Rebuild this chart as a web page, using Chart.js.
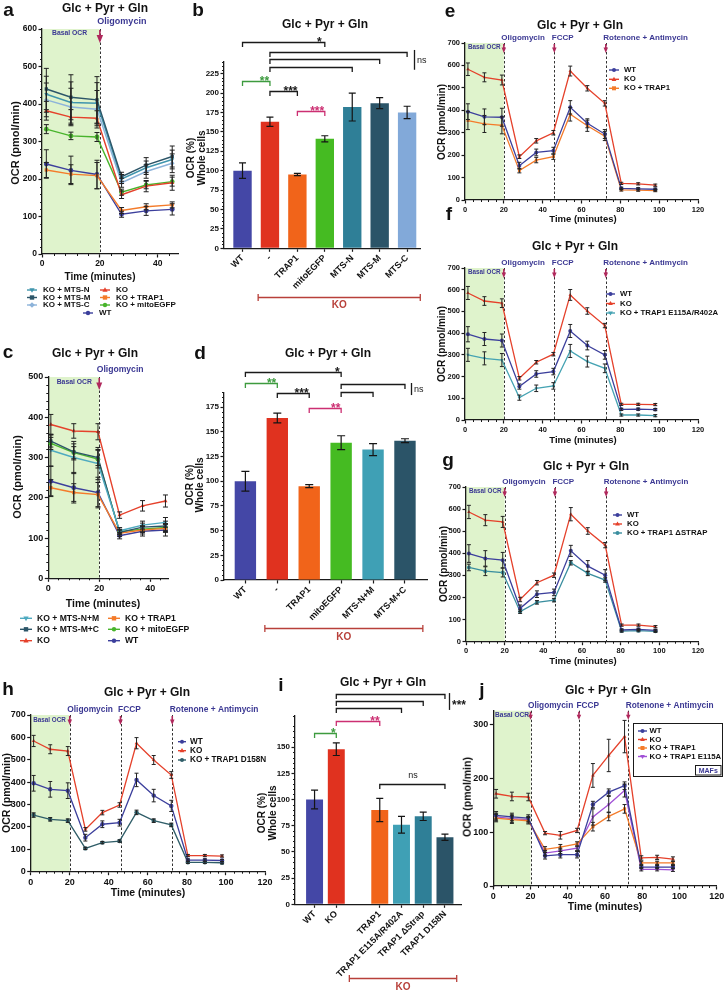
<!DOCTYPE html>
<html>
<head>
<meta charset="utf-8">
<title>OCR panels</title>
<script src="https://cdn.jsdelivr.net/npm/chart.js@4.4.1/dist/chart.umd.min.js"></script>
<style>
  html, body { margin: 0; padding: 0; background: #ffffff; }
  #page { position: relative; width: 724px; height: 991px; overflow: hidden; background: #fff; }
  #page canvas { position: absolute; left: 0; top: 0; }
  .t { position: absolute; font-family: 'Liberation Sans', Arial, sans-serif; font-weight: bold; color: #111;
       white-space: nowrap; line-height: 1; transform: translate(-50%, -50%); z-index: 5; }
</style>
</head>
<body>
<div id="page"></div>
<script>
// ===================== DATA =====================
// Panel a (time in minutes, OCR pmol/min)
const timeA = [1.5, 10, 19, 27.5, 36, 45];
const aMTSM = [440, 418, 411, 206, 237, 260];
const aMTSMerr = [55, 60, 62, 12, 20, 28];
const aMTSN = [426, 404, 402, 200, 230, 252];
const aMTSNerr = [48, 55, 55, 12, 18, 25];
const aMTSC = [411, 392, 386, 190, 220, 242];
const aMTSCerr = [45, 50, 50, 12, 18, 25];
const aKO = [382, 365, 362, 158, 181, 190];
const aKOerr = [25, 20, 20, 10, 15, 20];
const aMito = [333, 315, 312, 165, 184, 193];
const aMitoErr = [12, 10, 12, 8, 10, 12];
const aTRAP1 = [224, 213, 209, 116, 126, 131];
const aTRAP1err = [20, 25, 35, 8, 8, 8];
const aWT = [240, 223, 212, 106, 115, 119];
const aWTerr = [38, 38, 38, 8, 12, 15];

// Panel b (OCR %, whole cells)
const catsB = ['WT', '-', 'TRAP1', 'mitoEGFP', 'MTS-N', 'MTS-M', 'MTS-C'];
const slotsB = [0, 1, 2, 3, 4, 5, 6];
const valsB = [100, 163, 95, 141, 182, 187, 175];
const errB = [10, 6, 1.5, 4, 18, 7, 8];

// Panel c
const timeC = [1, 10, 19.5, 28, 37, 46];
const cNM = [318, 300, 285, 118, 132, 139];
const cNMerr = [40, 40, 40, 8, 10, 12];
const cMC = [341, 314, 300, 114, 127, 130];
const cMCerr = [15, 20, 20, 6, 10, 12];
const cKO = [382, 366, 364, 157, 180, 192];
const cKOerr = [25, 18, 20, 8, 13, 15];
const cTRAP1 = [225, 213, 208, 112, 120, 124];
const cTRAP1err = [20, 22, 30, 8, 10, 10];
const cMito = [335, 312, 296, 116, 122, 126];
const cMitoErr = [15, 15, 22, 6, 8, 10];
const cWT = [241, 225, 213, 106, 117, 120];
const cWTerr = [38, 38, 38, 8, 12, 15];

// Panel d
const catsD = ['WT', '-', 'TRAP1', 'mitoEGFP', 'MTS-N+M', 'MTS-M+C'];
const slotsD = [0, 1, 2, 3, 4, 5];
const valsD = [100, 164, 95, 139, 132, 141];
const errD = [10, 5, 1.5, 7, 6, 2];

// Panels e-h share the injection time grid
const timeEFGH = [1.5, 10, 19, 28, 36.7, 45.5, 54.2, 63, 72, 80.5, 89.2, 98];
const eWT = [394, 371, 369, 153, 212, 220, 413, 342, 294, 52, 50, 48];
const eWTerr = [35, 35, 40, 15, 15, 15, 30, 20, 20, 5, 5, 5];
const eKO = [583, 547, 535, 193, 264, 300, 575, 498, 431, 74, 72, 66];
const eKOerr = [28, 20, 22, 8, 10, 10, 22, 12, 12, 5, 5, 5];
const eTRAP1 = [354, 339, 333, 131, 178, 193, 382, 331, 285, 45, 44, 42];
const eTRAP1err = [40, 38, 38, 10, 12, 12, 30, 25, 20, 5, 5, 5];

const fWT = [395, 373, 366, 154, 212, 223, 410, 343, 300, 49, 50, 48];
const fWTerr = [35, 30, 30, 12, 15, 15, 30, 20, 20, 5, 5, 5];
const fKO = [585, 548, 538, 192, 266, 303, 576, 502, 435, 72, 72, 71];
const fKOerr = [30, 20, 20, 8, 8, 8, 25, 15, 10, 5, 5, 5];
const fMut = [300, 284, 276, 103, 146, 157, 318, 269, 238, 23, 23, 20];
const fMutErr = [30, 30, 30, 12, 15, 15, 30, 25, 20, 5, 5, 5];

const gWT = [399, 377, 369, 151, 215, 223, 411, 342, 301, 53, 56, 51];
const gWTerr = [40, 35, 35, 15, 15, 15, 25, 25, 25, 5, 5, 5];
const gKO = [587, 550, 542, 191, 267, 301, 577, 501, 437, 75, 75, 68];
const gKOerr = [30, 25, 25, 10, 10, 10, 30, 15, 12, 5, 5, 5];
const gStrap = [336, 319, 313, 136, 178, 188, 357, 309, 279, 48, 50, 47];
const gStrapErr = [15, 20, 20, 8, 8, 8, 10, 10, 10, 5, 5, 5];

const hWT = [395, 368, 362, 152, 212, 219, 410, 340, 294, 52, 52, 50];
const hWTerr = [35, 35, 35, 15, 15, 15, 30, 28, 25, 5, 5, 5];
const hKO = [584, 547, 539, 189, 264, 298, 574, 499, 432, 72, 72, 70];
const hKOerr = [25, 20, 20, 8, 10, 10, 25, 20, 15, 5, 5, 5];
const hD158N = [253, 234, 228, 104, 130, 137, 265, 228, 209, 42, 42, 40];
const hD158Nerr = [10, 8, 8, 5, 5, 5, 10, 8, 8, 5, 5, 5];

// Panel i
const catsI = ['WT', 'KO', 'TRAP1', 'TRAP1 E115A/R402A', 'TRAP1 \u0394Strap', 'TRAP1 D158N'];
const slotsI = [0, 1, 3, 4, 5, 6];
const valsI = [100, 148, 90, 76, 84, 64];
const errI = [9, 6, 11, 8, 4, 3];

// Panel j (MAFs)
const timeJ = [1.5, 10, 18.8, 27.8, 36, 45, 53.5, 62, 70.5, 79.5, 88, 96.5];
const jWT = [131, 128, 126, 56, 58, 58, 151, 174, 186, 35, 35, 35];
const jWTerr = [7, 7, 6, 6, 6, 6, 6, 6, 7, 3, 3, 3];
const jKO = [171, 166, 165, 98, 94, 103, 205, 242, 277, 52, 53, 50];
const jKOerr = [8, 8, 7, 3, 7, 4, 22, 30, 30, 4, 4, 4];
const jTRAP1 = [126, 123, 121, 68, 72, 78, 110, 129, 143, 43, 43, 43];
const jTRAP1err = [7, 7, 6, 5, 5, 4, 8, 8, 8, 3, 3, 3];
const jE115A = [128, 125, 123, 61, 65, 70, 128, 151, 177, 31, 31, 30];
const jE115Aerr = [7, 7, 6, 5, 5, 4, 15, 15, 12, 3, 3, 3];

const injTimes = [20, 46, 72.5];
const injNames = ['Oligomycin', 'FCCP', 'Rotenone + Antimycin'];

// ===================== RENDERING =====================
const FONT = "'Liberation Sans', Arial, Helvetica, sans-serif";
const W = 724, H = 991;
const INK = '#1a1a1a';
const SHADE = '#dff3cc';
const INJ = '#3b3893';
const ARROW = '#b0285c';
const GREEN = '#3d9b3f';
const PINK = '#cc2f72';
const KORED = '#b8403a';
const COL = {
  WT: '#3c3f9c', KO: '#e5412b', TRAP1: '#f47b2a', mito: '#48b42c',
  MTSN: '#3f95ad', MTSM: '#2c5568', MTSC: '#8db3da', NM: '#4eaac0', MC: '#2c5568',
  R402: '#45a3b3', STRAP: '#3a8e9f', D158N: '#2f5d68', E115A: '#a151d6'
};
const page = document.getElementById('page');

function addText(txt, x, y, size, o) {
  o = o || {};
  const d = document.createElement('div');
  d.className = 't';
  d.textContent = txt;
  d.style.left = x + 'px';
  d.style.top = y + 'px';
  d.style.fontSize = size + 'px';
  if (o.color) d.style.color = o.color;
  if (o.rot) d.style.transform = 'translate(-50%, -50%) rotate(-90deg)';
  page.appendChild(d);
}
function makeCanvas() {
  const c = document.createElement('canvas');
  c.width = W; c.height = H;
  c.style.width = W + 'px'; c.style.height = H + 'px';
  page.appendChild(c);
  return c;
}
function isMult(v, step) { return Math.abs(v / step - Math.round(v / step)) < 1e-6; }
function keepMultiples(step) { return s => { s.ticks = s.ticks.filter(t => isMult(t.value, step)); }; }
function fixY(wy) { return s => { s.width = wy; s.paddingTop = 0; s.paddingBottom = 0; s.paddingLeft = 0; s.paddingRight = 0; }; }
function fixX(hx) { return s => { s.height = hx; s.paddingTop = 0; s.paddingBottom = 0; s.paddingLeft = 0; s.paddingRight = 0; }; }
function border() { return { display: true, color: INK, width: 1.3 }; }
function grid() { return { display: true, drawOnChartArea: false, drawTicks: true, tickLength: 3.5, tickWidth: 1.2, tickColor: INK, color: INK, offset: false }; }
function tfont(size) { return { family: FONT, size: size, weight: 'bold' }; }

function drawMarker(ctx, style, x, y, r, color) {
  ctx.save();
  ctx.fillStyle = color;
  ctx.beginPath();
  if (style === 'rect') { ctx.rect(x - r, y - r, 2 * r, 2 * r); }
  else if (style === 'rectRot') { ctx.moveTo(x, y - r * 1.3); ctx.lineTo(x + r * 1.3, y); ctx.lineTo(x, y + r * 1.3); ctx.lineTo(x - r * 1.3, y); ctx.closePath(); }
  else if (style === 'triangle') { ctx.moveTo(x, y - r * 1.3); ctx.lineTo(x + r * 1.2, y + r * 0.8); ctx.lineTo(x - r * 1.2, y + r * 0.8); ctx.closePath(); }
  else if (style === 'triangleDown') { ctx.moveTo(x, y + r * 1.3); ctx.lineTo(x + r * 1.2, y - r * 0.8); ctx.lineTo(x - r * 1.2, y - r * 0.8); ctx.closePath(); }
  else { ctx.arc(x, y, r, 0, Math.PI * 2); }
  ctx.fill();
  ctx.restore();
}
function drawArrow(ctx, x, top, len, w) {
  ctx.save();
  ctx.strokeStyle = ARROW; ctx.fillStyle = ARROW; ctx.lineWidth = 1.6;
  ctx.beginPath(); ctx.moveTo(x, top); ctx.lineTo(x, top + len * 0.5); ctx.stroke();
  ctx.beginPath();
  ctx.moveTo(x - w / 2, top + len * 0.38); ctx.lineTo(x + w / 2, top + len * 0.38); ctx.lineTo(x, top + len);
  ctx.closePath(); ctx.fill();
  ctx.restore();
}
function drawMinor(ctx, a, x, y, p) {
  ctx.save(); ctx.strokeStyle = INK; ctx.lineWidth = 1;
  if (p.yMinor) {
    for (let v = 0; v <= y.max + 1e-9; v += p.yMinor) {
      if (isMult(v, p.yStep)) continue;
      const py = Math.round(y.getPixelForValue(v)) + 0.5;
      ctx.beginPath(); ctx.moveTo(a.left - 2, py); ctx.lineTo(a.left, py); ctx.stroke();
    }
  }
  if (p.xMinor) {
    for (let v = 0; v <= x.max + 1e-9; v += p.xMinor) {
      if (isMult(v, p.xStep)) continue;
      const px = Math.round(x.getPixelForValue(v)) + 0.5;
      ctx.beginPath(); ctx.moveTo(px, a.bottom); ctx.lineTo(px, a.bottom + 2); ctx.stroke();
    }
  }
  ctx.restore();
}
function drawLegend(ctx, chart, L) {
  ctx.save();
  if (L.box) {
    ctx.strokeStyle = INK; ctx.lineWidth = 1;
    ctx.strokeRect(L.box[0] + 0.5, L.box[1] + 0.5, L.box[2] - L.box[0], L.box[3] - L.box[1]);
  }
  ctx.font = 'bold ' + L.size + 'px ' + FONT;
  ctx.textBaseline = 'middle'; ctx.textAlign = 'left';
  L.items.forEach(it => {
    const ds = chart.data.datasets[it[0]];
    const lx = it[1], ly = it[2];
    ctx.strokeStyle = ds.borderColor; ctx.lineWidth = 1.4;
    ctx.beginPath(); ctx.moveTo(lx, ly); ctx.lineTo(lx + L.len, ly); ctx.stroke();
    drawMarker(ctx, ds.marker || 'circle', lx + L.len / 2, ly, L.r || 2, ds.borderColor);
    ctx.fillStyle = '#111';
    ctx.fillText(ds.label, lx + L.len + L.gap, ly);
  });
  if (L.tag) {
    const b = L.tag.box;
    ctx.strokeStyle = INK; ctx.lineWidth = 1;
    ctx.strokeRect(b[0] + 0.5, b[1] + 0.5, b[2] - b[0], b[3] - b[1]);
    ctx.fillStyle = INJ; ctx.textAlign = 'center';
    ctx.font = 'bold 7px ' + FONT;
    ctx.fillText(L.tag.text, (b[0] + b[2]) / 2 + 0.5, (b[1] + b[3]) / 2 + 1);
  }
  ctx.restore();
}

function lineDeco(p) {
  return {
    id: 'lineDeco',
    beforeDraw(chart) {
      const ctx = chart.ctx, a = chart.chartArea, x = chart.scales.x;
      const x0 = x.getPixelForValue(0), x1 = x.getPixelForValue(p.inj[0]);
      ctx.save(); ctx.fillStyle = SHADE; ctx.fillRect(x0, a.top, x1 - x0, a.bottom - a.top); ctx.restore();
    },
    beforeDatasetsDraw(chart) {
      const ctx = chart.ctx, a = chart.chartArea, x = chart.scales.x;
      ctx.save(); ctx.strokeStyle = '#333'; ctx.lineWidth = 1; ctx.setLineDash([2.5, 2]);
      p.inj.forEach(t => {
        const px = Math.round(x.getPixelForValue(t)) + 0.5;
        ctx.beginPath(); ctx.moveTo(px, a.top); ctx.lineTo(px, a.bottom); ctx.stroke();
      });
      ctx.restore();
    },
    afterDatasetsDraw(chart) {
      const ctx = chart.ctx, y = chart.scales.y;
      const cw = p.capW || 2;
      ctx.save(); ctx.strokeStyle = '#222'; ctx.lineWidth = 1;
      chart.data.datasets.forEach((ds, i) => {
        const meta = chart.getDatasetMeta(i);
        meta.data.forEach((pt, j) => {
          const v = ds.data[j].y, e = ds.err[j];
          const y1 = y.getPixelForValue(v + e), y2 = y.getPixelForValue(v - e);
          ctx.beginPath();
          ctx.moveTo(pt.x, y1); ctx.lineTo(pt.x, y2);
          ctx.moveTo(pt.x - cw, y1); ctx.lineTo(pt.x + cw, y1);
          ctx.moveTo(pt.x - cw, y2); ctx.lineTo(pt.x + cw, y2);
          ctx.stroke();
        });
      });
      ctx.restore();
    },
    afterDraw(chart) {
      const ctx = chart.ctx, a = chart.chartArea, x = chart.scales.x, y = chart.scales.y;
      drawMinor(ctx, a, x, y, p);
      ctx.save();
      p.inj.forEach((t, k) => {
        const px = x.getPixelForValue(t);
        drawArrow(ctx, px, a.top + 1, p.arrowLen, p.arrowW);
        ctx.font = 'bold ' + p.injSize + 'px ' + FONT;
        ctx.textBaseline = 'middle'; ctx.textAlign = 'left'; ctx.fillStyle = INJ;
        ctx.fillText(p.injLabels[k], px - 2.5, a.top - p.injDy);
      });
      ctx.font = 'bold ' + p.basal.size + 'px ' + FONT;
      ctx.textBaseline = 'middle'; ctx.textAlign = 'left'; ctx.fillStyle = INJ;
      ctx.fillText('Basal OCR', a.left + p.basal.dx, a.top + p.basal.dy);
      ctx.restore();
      drawLegend(ctx, chart, p.legend);
    }
  };
}

function lineChart(p) {
  const cv = makeCanvas();
  const wy = 30, hx = 18, A = p.area;
  const datasets = p.series.map(s => ({
    label: s.label,
    data: p.times.map((t, i) => ({ x: t, y: s.data[i] })),
    err: s.err,
    marker: s.marker || 'circle',
    borderColor: s.color,
    backgroundColor: s.color,
    borderWidth: p.lineW || 1.4,
    pointRadius: p.ptR || 2,
    pointStyle: s.marker === 'triangleDown' ? 'triangle' : (s.marker || 'circle'),
    rotation: s.marker === 'triangleDown' ? 180 : 0,
    pointBorderWidth: 0,
    tension: 0,
    clip: false
  }));
  return new Chart(cv, {
    type: 'line',
    data: { datasets: datasets },
    options: {
      responsive: false, animation: false, devicePixelRatio: 1,
      layout: { autoPadding: false, padding: { left: A.L - wy, top: A.T, right: W - A.R, bottom: H - A.B - hx } },
      plugins: { legend: { display: false }, tooltip: { enabled: false }, title: { display: false } },
      scales: {
        x: {
          type: 'linear', min: 0, max: p.xMax, border: border(), grid: grid(),
          ticks: { stepSize: p.xStep, color: '#111', font: tfont(p.tick), padding: 1.5, maxRotation: 0, minRotation: 0, autoSkip: false },
          afterBuildTicks: keepMultiples(p.xStep), afterFit: fixX(hx)
        },
        y: {
          type: 'linear', min: 0, max: p.yMax, border: border(), grid: grid(),
          ticks: { stepSize: p.yStep, color: '#111', font: tfont(p.tick), padding: 1.5, autoSkip: false },
          afterBuildTicks: keepMultiples(p.yStep), afterFit: fixY(wy)
        }
      }
    },
    plugins: [lineDeco(p)]
  });
}

function barDeco(p) {
  return {
    id: 'barDeco',
    afterDatasetsDraw(chart) {
      const ctx = chart.ctx, y = chart.scales.y;
      const meta = chart.getDatasetMeta(0), ds = chart.data.datasets[0];
      const cw = p.capW;
      ctx.save(); ctx.strokeStyle = '#151515'; ctx.lineWidth = 1.2;
      meta.data.forEach((bar, j) => {
        const v = ds.data[j].y, e = ds.err[j];
        const y1 = y.getPixelForValue(v + e), y2 = y.getPixelForValue(v - e);
        ctx.beginPath();
        ctx.moveTo(bar.x, y1); ctx.lineTo(bar.x, y2);
        ctx.moveTo(bar.x - cw, y1); ctx.lineTo(bar.x + cw, y1);
        ctx.moveTo(bar.x - cw, y2); ctx.lineTo(bar.x + cw, y2);
        ctx.stroke();
      });
      ctx.restore();
    },
    afterDraw(chart) {
      const ctx = chart.ctx, a = chart.chartArea, x = chart.scales.x, y = chart.scales.y;
      drawMinor(ctx, a, x, y, p);
      ctx.save();
      p.brackets.forEach(b => {
        const x1 = x.getPixelForValue(b.x1), x2 = x.getPixelForValue(b.x2);
        const py = Math.round(y.getPixelForValue(b.y)) + 0.5;
        const col = b.color || INK;
        ctx.strokeStyle = col; ctx.lineWidth = 1.3;
        ctx.beginPath(); ctx.moveTo(x1, py + 4.5); ctx.lineTo(x1, py); ctx.lineTo(x2, py); ctx.lineTo(x2, py + 4.5); ctx.stroke();
        if (b.label) {
          const star = b.label.indexOf('*') >= 0;
          ctx.fillStyle = col;
          ctx.font = (star ? 'bold 12px ' : '9px ') + FONT;
          ctx.textAlign = 'center'; ctx.textBaseline = 'alphabetic';
          ctx.fillText(b.label, x.getPixelForValue(b.lx), star ? py + 3.2 : py - 7);
        }
      });
      if (p.vline) {
        const v = p.vline;
        const px = Math.round(x.getPixelForValue(v.x)) + 0.5;
        ctx.strokeStyle = INK; ctx.lineWidth = 1.3;
        ctx.beginPath(); ctx.moveTo(px, y.getPixelForValue(v.y1)); ctx.lineTo(px, y.getPixelForValue(v.y2)); ctx.stroke();
        const star = v.label.indexOf('*') >= 0;
        ctx.fillStyle = INK; ctx.textAlign = 'left'; ctx.textBaseline = 'alphabetic';
        ctx.font = (star ? 'bold 12px ' : '9px ') + FONT;
        ctx.fillText(v.label, px + 2.5, y.getPixelForValue(v.ly) + (star ? 7 : 2.3));
      }
      const g = p.group;
      const gy = Math.round(a.bottom + g.dy) + 0.5;
      const gx1 = x.getPixelForValue(g.x1), gx2 = x.getPixelForValue(g.x2);
      ctx.strokeStyle = KORED; ctx.lineWidth = 1.3;
      ctx.beginPath();
      ctx.moveTo(gx1, gy); ctx.lineTo(gx2, gy);
      ctx.moveTo(gx1, gy - 3.5); ctx.lineTo(gx1, gy + 3.5);
      ctx.moveTo(gx2, gy - 3.5); ctx.lineTo(gx2, gy + 3.5);
      ctx.stroke();
      ctx.fillStyle = KORED; ctx.font = 'bold 10px ' + FONT; ctx.textAlign = 'center'; ctx.textBaseline = 'middle';
      ctx.fillText('KO', (gx1 + gx2) / 2, gy + g.textDy);
      ctx.restore();
    }
  };
}

function barChart(p) {
  const cv = makeCanvas();
  const wy = 30, hx = 85, A = p.area;
  const ds = {
    data: p.slots.map((s, i) => ({ x: s, y: p.vals[i] })),
    err: p.errs,
    backgroundColor: p.colors,
    borderWidth: 0,
    barPercentage: p.barPct,
    categoryPercentage: 1
  };
  return new Chart(cv, {
    type: 'bar',
    data: { datasets: [ds] },
    options: {
      responsive: false, animation: false, devicePixelRatio: 1,
      layout: { autoPadding: false, padding: { left: A.L - wy, top: A.T, right: W - A.R, bottom: H - A.B - hx } },
      plugins: { legend: { display: false }, tooltip: { enabled: false }, title: { display: false } },
      scales: {
        x: {
          type: 'linear', min: p.xMin, max: p.xMax, offset: false, border: border(), grid: grid(),
          ticks: {
            stepSize: 1, color: '#111', font: tfont(p.xTick), padding: 1, autoSkip: false, minRotation: 45, maxRotation: 45,
            callback: v => { const k = p.slots.indexOf(v); return k >= 0 ? p.cats[k] : ''; }
          },
          afterBuildTicks: s => { s.ticks = p.slots.map(v => ({ value: v })); },
          afterFit: fixX(hx)
        },
        y: {
          type: 'linear', min: 0, max: p.yMax, border: border(), grid: grid(),
          ticks: { stepSize: p.yStep, color: '#111', font: tfont(p.tick), padding: 1.5, autoSkip: false },
          afterBuildTicks: keepMultiples(p.yStep), afterFit: fixY(wy)
        }
      }
    },
    plugins: [barDeco(p)]
  });
}

// ---------- Panel a ----------
lineChart({
  area: { L: 42, T: 29, R: 178, B: 254 },
  xMax: 47, xStep: 20, xMinor: 4, yMax: 600, yStep: 100, yMinor: 20, tick: 8.5,
  times: timeA, ptR: 2.4, capW: 2.5,
  series: [
    { label: 'KO + MTS-M', data: aMTSM, err: aMTSMerr, color: COL.MTSM, marker: 'rect' },
    { label: 'KO + MTS-N', data: aMTSN, err: aMTSNerr, color: COL.MTSN, marker: 'triangleDown' },
    { label: 'KO + MTS-C', data: aMTSC, err: aMTSCerr, color: COL.MTSC, marker: 'rectRot' },
    { label: 'KO', data: aKO, err: aKOerr, color: COL.KO, marker: 'triangle' },
    { label: 'KO + mitoEGFP', data: aMito, err: aMitoErr, color: COL.mito, marker: 'circle' },
    { label: 'KO + TRAP1', data: aTRAP1, err: aTRAP1err, color: COL.TRAP1, marker: 'rect' },
    { label: 'WT', data: aWT, err: aWTerr, color: COL.WT, marker: 'circle' }
  ],
  inj: [injTimes[0]], injLabels: [injNames[0]], injSize: 9, injDy: 7, arrowLen: 13, arrowW: 6.5,
  basal: { dx: 10, dy: 4, size: 6.8 },
  legend: { size: 8, len: 10, gap: 6, r: 2.2, items: [[1, 27, 290], [0, 27, 297.5], [2, 27, 305], [3, 100, 290], [5, 100, 297.5], [4, 100, 305], [6, 83, 313]] }
});

// ---------- Panel c ----------
lineChart({
  area: { L: 48.3, T: 377, R: 168, B: 578.3 },
  xMax: 47, xStep: 20, xMinor: 4, yMax: 500, yStep: 100, yMinor: 20, tick: 9,
  times: timeC, ptR: 2.4, capW: 2.5,
  series: [
    { label: 'KO + MTS-N+M', data: cNM, err: cNMerr, color: COL.NM, marker: 'triangleDown' },
    { label: 'KO + MTS-M+C', data: cMC, err: cMCerr, color: COL.MC, marker: 'rect' },
    { label: 'KO', data: cKO, err: cKOerr, color: COL.KO, marker: 'triangle' },
    { label: 'KO + TRAP1', data: cTRAP1, err: cTRAP1err, color: COL.TRAP1, marker: 'rect' },
    { label: 'KO + mitoEGFP', data: cMito, err: cMitoErr, color: COL.mito, marker: 'circle' },
    { label: 'WT', data: cWT, err: cWTerr, color: COL.WT, marker: 'circle' }
  ],
  inj: [injTimes[0]], injLabels: [injNames[0]], injSize: 8.6, injDy: 7, arrowLen: 12, arrowW: 6,
  basal: { dx: 8.4, dy: 5, size: 6.8 },
  legend: { size: 8.6, len: 12, gap: 5, r: 2.2, items: [[0, 20, 618.3], [1, 20, 629.3], [2, 20, 640.7], [3, 108, 618.3], [4, 108, 629.3], [5, 108, 640.7]] }
});

// ---------- Panels e, f, g, h ----------
function seahorse(area, tick, series, legend, extra) {
  return lineChart(Object.assign({
    area: area, xMax: 120, xStep: 20, xMinor: 4, yMax: 700, yStep: 100, tick: tick,
    times: timeEFGH, ptR: 2, capW: 2, lineW: 1.3, series: series,
    inj: injTimes, injLabels: injNames, injSize: 8, injDy: 5, arrowLen: 9, arrowW: 4.5,
    basal: { dx: 3, dy: 4.3, size: 6.3 }, legend: legend
  }, extra || {}));
}
seahorse({ L: 465, T: 43, R: 698, B: 200 }, 7.5, [
  { label: 'WT', data: eWT, err: eWTerr, color: COL.WT, marker: 'circle' },
  { label: 'KO', data: eKO, err: eKOerr, color: COL.KO, marker: 'triangle' },
  { label: 'KO + TRAP1', data: eTRAP1, err: eTRAP1err, color: COL.TRAP1, marker: 'rect' }
], { size: 7.8, len: 10, gap: 5, items: [[0, 609, 70], [1, 609, 79.3], [2, 609, 88.3]] });

seahorse({ L: 465, T: 268, R: 698, B: 420 }, 7.5, [
  { label: 'WT', data: fWT, err: fWTerr, color: COL.WT, marker: 'circle' },
  { label: 'KO', data: fKO, err: fKOerr, color: COL.KO, marker: 'triangle' },
  { label: 'KO + TRAP1 E115A/R402A', data: fMut, err: fMutErr, color: COL.R402, marker: 'triangleDown' }
], { size: 7.8, len: 9, gap: 5, items: [[0, 606, 294], [1, 606, 303.5], [2, 606, 313]] });

seahorse({ L: 466, T: 487, R: 698, B: 641.7 }, 7.5, [
  { label: 'WT', data: gWT, err: gWTerr, color: COL.WT, marker: 'circle' },
  { label: 'KO', data: gKO, err: gKOerr, color: COL.KO, marker: 'triangle' },
  { label: 'KO + TRAP1 \u0394STRAP', data: gStrap, err: gStrapErr, color: COL.STRAP, marker: 'circle' }
], { size: 7.8, len: 9, gap: 5, items: [[0, 613, 515], [1, 613, 524], [2, 613, 533]] });

seahorse({ L: 30.7, T: 715, R: 265, B: 871.7 }, 9, [
  { label: 'WT', data: hWT, err: hWTerr, color: COL.WT, marker: 'circle' },
  { label: 'KO', data: hKO, err: hKOerr, color: COL.KO, marker: 'triangle' },
  { label: 'KO + TRAP1 D158N', data: hD158N, err: hD158Nerr, color: COL.D158N, marker: 'circle' }
], { size: 8.2, len: 8, gap: 4, items: [[0, 178, 741.7], [1, 178, 750.7], [2, 178, 760]] },
{ injSize: 8.4, ptR: 2.2, basal: { dx: 2.6, dy: 5, size: 6.3 } });

// ---------- Panel j ----------
lineChart({
  area: { L: 493.3, T: 710.7, R: 716.7, B: 886 },
  xMax: 120, xStep: 20, xMinor: 4, yMax: 325, yStep: 100, yMinor: 0, tick: 9,
  times: timeJ, ptR: 2.2, capW: 2, lineW: 1.3,
  series: [
    { label: 'WT', data: jWT, err: jWTerr, color: COL.WT, marker: 'circle' },
    { label: 'KO', data: jKO, err: jKOerr, color: COL.KO, marker: 'triangle' },
    { label: 'KO + TRAP1', data: jTRAP1, err: jTRAP1err, color: COL.TRAP1, marker: 'rect' },
    { label: 'KO + TRAP1 E115A', data: jE115A, err: jE115Aerr, color: COL.E115A, marker: 'triangleDown' }
  ],
  inj: injTimes, injLabels: injNames, injSize: 8.3, injDy: 4.7, arrowLen: 8, arrowW: 4.5,
  basal: { dx: 1.7, dy: 4.3, size: 6.6 },
  legend: { size: 7.8, len: 9, gap: 2.5, items: [[0, 638, 731], [1, 638, 739.5], [2, 638, 748], [3, 638, 756.5]],
            box: [633, 723, 722, 776], tag: { text: 'MAFs', box: [695, 765, 720.5, 774.5] } }
});

// ---------- Panel b ----------
barChart({
  area: { L: 224, T: 62, R: 420, B: 248.3 },
  xMin: -0.675, xMax: 6.47, yMax: 240, yStep: 25, yMinor: 5, tick: 8, xTick: 9,
  cats: catsB, slots: slotsB, vals: valsB, errs: errB, barPct: 0.67, capW: 3.5,
  colors: ['#4447a6', '#e0321f', '#f1641a', '#45bb22', '#2f7f97', '#2b5468', '#82a9d9'],
  brackets: [
    { x1: 0, x2: 3, y: 266, label: '*', lx: 2.8 },
    { x1: 1, x2: 6, y: 253 },
    { x1: 1, x2: 5, y: 244 },
    { x1: 1, x2: 4, y: 233.5 },
    { x1: 0, x2: 1, y: 215.5, label: '**', lx: 0.8, color: GREEN },
    { x1: 1, x2: 2, y: 202.6, label: '***', lx: 1.75 },
    { x1: 2, x2: 3, y: 177, label: '***', lx: 2.72, color: PINK }
  ],
  vline: { x: 6.26, y1: 255.5, y2: 230, label: 'ns', ly: 242 },
  group: { x1: 0.57, x2: 6.48, dy: 49, textDy: 7.5 }
});

// ---------- Panel d ----------
barChart({
  area: { L: 224, T: 392.3, R: 427, B: 580 },
  xMin: -0.67, xMax: 5.69, yMax: 190, yStep: 25, yMinor: 5, tick: 8, xTick: 9,
  cats: catsD, slots: slotsD, vals: valsD, errs: errD, barPct: 0.67, capW: 4,
  colors: ['#4447a6', '#e0321f', '#f1641a', '#45bb22', '#3fa0b5', '#2b5468'],
  brackets: [
    { x1: 0, x2: 3, y: 210.5, label: '*', lx: 2.88 },
    { x1: 0, x2: 1, y: 199.7, label: '**', lx: 0.82, color: GREEN },
    { x1: 1, x2: 2, y: 189.3, label: '***', lx: 1.76 },
    { x1: 2, x2: 3, y: 174.4, label: '**', lx: 2.83, color: PINK },
    { x1: 3, x2: 5, y: 198.4 },
    { x1: 3, x2: 4, y: 190.6 }
  ],
  vline: { x: 5.18, y1: 199.4, y2: 187.2, label: 'ns', ly: 192.3 },
  group: { x1: 0.61, x2: 5.56, dy: 48.3, textDy: 8.4 }
});

// ---------- Panel i ----------
barChart({
  area: { L: 295, T: 715.7, R: 461.7, B: 904.3 },
  xMin: -0.9, xMax: 6.77, yMax: 180, yStep: 25, yMinor: 5, tick: 8, xTick: 9,
  cats: catsI, slots: slotsI, vals: valsI, errs: errI, barPct: 0.78, capW: 3.5,
  colors: ['#4447a6', '#e0321f', '#f1641a', '#3fa0b5', '#2f7f97', '#2b5468'],
  brackets: [
    { x1: 0, x2: 1, y: 163.7, label: '*', lx: 0.86, color: GREEN },
    { x1: 1, x2: 3, y: 175.2, label: '**', lx: 2.78, color: PINK },
    { x1: 1, x2: 4, y: 187.6 },
    { x1: 1, x2: 5, y: 194.3 },
    { x1: 1, x2: 6, y: 200.4 },
    { x1: 3, x2: 6, y: 114.8, label: 'ns', lx: 4.53 }
  ],
  vline: { x: 6.18, y1: 201.6, y2: 185.5, label: '***', ly: 193 },
  group: { x1: 1.6, x2: 6.54, dy: 74, textDy: 8.4 }
});

// ---------- HTML text: panel letters, titles, axis titles ----------
const TITLE = 'Glc + Pyr + Gln';
[['a', 8.5, 9], ['b', 198, 9], ['e', 450, 10], ['c', 8, 351], ['d', 200, 352],
 ['f', 449, 213], ['g', 448, 459], ['h', 8, 688], ['i', 281, 684], ['j', 482, 689]]
  .forEach(l => addText(l[0], l[1], l[2], 19));
[[105, 7.5], [325, 24], [580, 25], [95, 353], [328, 353], [575, 246], [586, 466], [147, 692], [383, 682], [608, 689.5]]
  .forEach(t => addText(TITLE, t[0], t[1], 12));

addText('OCR (pmol/min)', 15, 143, 11, { rot: true });
addText('Time (minutes)', 100, 277, 10);
addText('OCR (%)', 191, 158, 10, { rot: true });
addText('Whole cells', 202, 158, 10, { rot: true });
addText('OCR (pmol/min)', 17, 477, 11, { rot: true });
addText('Time (minutes)', 103, 603, 10.5);
addText('OCR (%)', 190, 485, 10, { rot: true });
addText('Whole cells', 200, 485, 10, { rot: true });
addText('OCR (pmol/min)', 442, 122, 10, { rot: true });
addText('Time (minutes)', 583, 219, 9.5);
addText('OCR (pmol/min)', 442, 344, 10, { rot: true });
addText('Time (minutes)', 583, 440, 9.5);
addText('OCR (pmol/min)', 444, 564, 10, { rot: true });
addText('Time (minutes)', 583, 660.5, 9.5);
addText('OCR (pmol/min)', 6, 793, 10.5, { rot: true });
addText('Time (minutes)', 148, 891.7, 10.5);
addText('OCR (%)', 262, 813, 10, { rot: true });
addText('Whole cells', 273, 813, 10, { rot: true });
addText('OCR (pmol/min)', 467, 797, 10.5, { rot: true });
addText('Time (minutes)', 605, 906, 10.5);
</script>
</body>
</html>
